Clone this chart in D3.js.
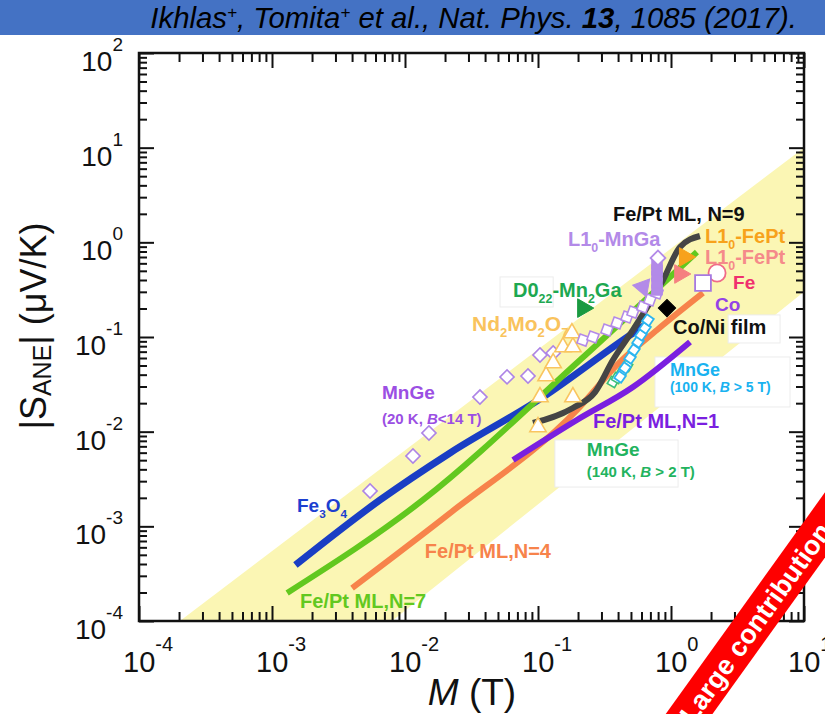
<!DOCTYPE html>
<html>
<head>
<meta charset="utf-8">
<script src="https://cdn.jsdelivr.net/npm/d3@7"></script>
<style>
  body { margin: 0; background: #fff; }
  svg { display: block; font-family: "Liberation Sans", Arial, sans-serif; }
</style>
</head>
<body>
<div id="chart"></div>
<script>
// --- data (M in T, |S_ANE| in uV/K) ---
const xExp = [-4, -3, -2, -1, 0, 1];
const yExp = [-4, -3, -2, -1, 0, 1, 2];

// yellow guide band (corners)
const bandM = [2.03e-4, 10, 10, 0.00798];
const bandS = [1e-4, 10, 0.30, 1e-4];

const fe3o4M = [0.0015, 0.0065, 0.0218, 0.109, 0.518, 0.64];
const fe3o4S = [3.9e-4, 1.9e-3, 5.96e-3, 0.0232, 0.110, 0.134];

const n7M = [0.0013, 0.01365, 0.207, 1.567];
const n7S = [1.98e-4, 1.9e-3, 0.0571, 0.791];

const n4M = [0.0040, 0.0218, 0.196, 0.414, 0.785, 1.74];
const n4S = [2.23e-4, 1.38e-3, 0.0169, 0.0545, 0.1186, 0.292];

const n1M = [0.0649, 0.196, 0.518, 1.39];
const n1S = [5.02e-3, 0.01327, 0.0296, 0.0885];

const n9M = [0.0916, 0.183, 0.2685, 0.366, 0.518, 0.871, 1.17, 1.65];
const n9S = [0.01236, 0.0178, 0.0262, 0.0571, 0.1186, 0.40, 0.893, 1.167];

const mnge20M = [0.00546, 0.01148, 0.01514, 0.0366, 0.0585, 0.0841, 0.1035, 0.130];
const mnge20S = [0.00236, 0.00553, 0.00968, 0.0232, 0.0379, 0.0387, 0.0646, 0.0678];

const mngaChainM = [0.218, 0.259, 0.330, 0.393, 0.467, 0.518, 0.615, 0.695, 0.785];
const mngaChainS = [0.0929, 0.100, 0.1186, 0.1406, 0.1626, 0.1836, 0.2075, 0.246, 0.292];
const mngaColM = [0.785, 0.785, 0.785, 0.785, 0.785];
const mngaColS = [0.314, 0.372, 0.441, 0.510, 0.590];
const mngaTopM = [0.798], mngaTopS = [0.684];
const mngaTriM = [0.615], mngaTriS = [0.337];

const ndM = [0.1, 0.1035, 0.183, 0.115, 0.130, 0.154, 0.183, 0.180];
const ndS = [0.0112, 0.0232, 0.0232, 0.0387, 0.0531, 0.0783, 0.0783, 0.110];

const mnge100M = [0.414, 0.451, 0.492, 0.527, 0.565, 0.595, 0.638, 0.671];
const mnge100S = [0.0379, 0.0471, 0.060, 0.0729, 0.0885, 0.105, 0.1245, 0.151];

const mnge140M = [0.366, 0.393, 0.428, 0.467];
const mnge140S = [0.0335, 0.0369, 0.0427, 0.0494];

const d022M = [0.218], d022S = [0.202];
const fept1M = [1.27], fept1S = [0.70];
const fept2M = [1.17], fept2S = [0.463];
const feM = [2.22], feS = [0.474];
const coM = [1.74], coS = [0.372];
const coniM = [0.933], coniS = [0.202];

// annotation texts and their anchors (left end, baseline) in data units
const labelText = ["Fe/Pt ML, N=9", "L1_{0}-FePt", "L1_{0}-FePt", "L1_{0}-MnGa", "Fe", "Co",
  "D0_{22}-Mn_{2}Ga", "Nd_{2}Mo_{2}O_{7}", "Co/Ni film", "MnGe", "(20 K, *{B}<14 T)",
  "Fe_{3}O_{4}", "Fe/Pt ML,N=1", "MnGe", "(140 K, *{B} > 2 T)", "MnGe", "(100 K, *{B} > 5 T)",
  "Fe/Pt ML,N=4", "Fe/Pt ML,N=7"];
const labelM = [0.366, 1.80, 1.80, 0.168, 2.93, 2.14, 0.0649, 0.0319, 1.035, 0.00671, 0.00671,
  0.00154, 0.259, 0.233, 0.233, 0.981, 0.981, 0.0141, 0.001626];
const labelS = [1.68, 0.984, 0.590, 0.914, 0.321, 0.188, 0.265, 0.1156, 0.1076, 0.0221, 0.01205,
  0.00142, 0.01094, 0.00553, 0.00332, 0.0387, 0.0262, 4.63e-4, 1.37e-4];
const labelColor = ["#111", "#f7a21b", "#f58a8a", "#b38ae8", "#f0306e", "#9442e6", "#1da851",
  "#f9c35c", "#111", "#9b4fe3", "#9b4fe3", "#1c3fd0", "#7a1fe0", "#22b35e", "#22b35e",
  "#19b2f0", "#19b2f0", "#f7834b", "#62c81f"];
const labelSize = [20, 20, 20, 20, 19, 19, 20, 21, 20, 19, 15, 19, 20, 19, 15, 18, 14, 20, 20];

// white boxes behind some annotations [M0, M1, S0, S1]
const boxM0 = [0.134, 0.758, 2.69, 0.0518];
const boxM1 = [1.13, 7.85, 6.61, 0.130];
const boxS0 = [0.0026, 0.01824, 0.0865, 0.2075];
const boxS1 = [0.00817, 0.0615, 0.171, 0.431];

// --- chart ---
const W = 825, H = 714;
const m = { left: 139, right: 804, top: 53, bottom: 621 };
const svg = d3.select("#chart").append("svg").attr("width", W).attr("height", H);

const x = d3.scaleLog().domain([1e-4, 10]).range([m.left, m.right]);
const y = d3.scaleLog().domain([1e-4, 100]).range([m.bottom, m.top]);

svg.append("defs").append("clipPath").attr("id", "plot")
  .append("rect").attr("x", m.left).attr("y", m.top)
  .attr("width", m.right - m.left).attr("height", m.bottom - m.top);

// header bar
svg.append("rect").attr("width", W).attr("height", 35).attr("fill", "#4472c4");
const citeG = svg.append("g").attr("transform", "translate(797,28)");
const cite = citeG.append("text").attr("text-anchor", "end").attr("font-style", "italic")
  .attr("font-size", 29).attr("fill", "#000");
cite.append("tspan").text("Ikhlas");
cite.append("tspan").attr("font-size", 17).attr("dy", -10).text("+");
cite.append("tspan").attr("dy", 10).text(", Tomita");
cite.append("tspan").attr("font-size", 17).attr("dy", -10).text("+");
cite.append("tspan").attr("dy", 10).text(" et al., Nat. Phys. ");
cite.append("tspan").attr("font-weight", "bold").text("13");
cite.append("tspan").text(", 1085 (2017).");
const citeW = cite.node().getComputedTextLength();
cite.attr("transform", `scale(${647 / citeW},1)`);

const plot = svg.append("g").attr("clip-path", "url(#plot)");

// band
const pt = (M, S) => M.map((d, i) => [x(d), y(S[i])]);
plot.append("path")
  .attr("d", d3.line()(pt(bandM, bandS)) + "Z")
  .attr("fill", "#fbf6b4");

// boxes
boxM0.forEach((d, i) => {
  plot.append("rect")
    .attr("x", x(d)).attr("y", y(boxS1[i]))
    .attr("width", x(boxM1[i]) - x(d)).attr("height", y(boxS0[i]) - y(boxS1[i]))
    .attr("fill", "#fff").attr("stroke", "#ececec").attr("stroke-width", 1);
});

// lines
const lines = [
  { M: fe3o4M, S: fe3o4S, color: "#1a3ec4", w: 7 },
  { M: n7M, S: n7S, color: "#62c81f", w: 6 },
  { M: n4M, S: n4S, color: "#f7834b", w: 6 },
  { M: n9M, S: n9S, color: "#454545", w: 6 },
  { M: n1M, S: n1S, color: "#7a1fe0", w: 6 }
];
const lineGen = d3.line().curve(d3.curveMonotoneX);
lines.forEach(l => {
  plot.append("path")
    .attr("d", lineGen(pt(l.M, l.S)))
    .attr("fill", "none").attr("stroke", l.color).attr("stroke-width", l.w)
    .attr("stroke-linecap", "butt").attr("stroke-linejoin", "round");
});

// markers
function markers(M, S, type, size, rot, fill, stroke, sw) {
  plot.append("g").selectAll("path")
    .data(M.map((d, i) => [d, S[i]]))
    .join("path")
    .attr("d", d3.symbol().type(type).size(size))
    .attr("transform", d => `translate(${x(d[0])},${y(d[1])}) rotate(${rot})`)
    .attr("fill", fill).attr("stroke", stroke).attr("stroke-width", sw);
}
markers(mnge20M, mnge20S, d3.symbolSquare, 100, 45, "#fff", "#ad84e6", 1.6);
markers(ndM, ndS, d3.symbolTriangle, 115, 0, "#fff", "#f9c560", 1.6);
markers(mnge140M, mnge140S, d3.symbolSquare, 70, 30, "#fff", "#3cbf7a", 1.6);
markers(mnge100M, mnge100S, d3.symbolSquare, 70, 35, "#fff", "#2bb5f0", 1.8);
markers(mngaChainM, mngaChainS, d3.symbolSquare, 90, 20, "#fff", "#b38ae8", 1.6);
markers(mngaColM, mngaColS, d3.symbolSquare, 110, 0, "#b38ae8", "#b38ae8", 1);
markers(mngaTopM, mngaTopS, d3.symbolSquare, 110, 45, "#fff", "#b38ae8", 1.8);
markers(mngaTriM, mngaTriS, d3.symbolTriangle, 140, 160, "#b38ae8", "#b38ae8", 1);
markers(d022M, d022S, d3.symbolTriangle, 150, 90, "#1a9a40", "#1a9a40", 1);
markers(fept1M, fept1S, d3.symbolTriangle, 150, 90, "#f7a21b", "#f7a21b", 1);
markers(fept2M, fept2S, d3.symbolTriangle, 150, 90, "#f58080", "#f58080", 1);
markers(feM, feS, d3.symbolCircle, 230, 0, "#fff", "#f06a88", 1.8);
markers(coM, coS, d3.symbolSquare, 250, 0, "#fff", "#a679e0", 1.8);
markers(coniM, coniS, d3.symbolSquare, 150, 45, "#000", "#000", 1);

// annotation labels with sub/superscripts
function rich(sel, str, base) {
  const parts = str.split(/(_\{[^}]*\}|\^\{[^}]*\}|\*\{[^}]*\})/).filter(s => s.length);
  let off = 0;
  parts.forEach(p => {
    let target = 0, txt = p, small = false, ital = false;
    if (p.startsWith("_{")) { target = 0.3 * base; txt = p.slice(2, -1); small = true; }
    else if (p.startsWith("^{")) { target = -0.5 * base; txt = p.slice(2, -1); small = true; }
    else if (p.startsWith("*{")) { txt = p.slice(2, -1); ital = true; }
    const t = sel.append("tspan").text(txt);
    if (target !== off) t.attr("dy", target - off);
    if (small) t.attr("font-size", base * 0.62);
    if (ital) t.attr("font-style", "italic");
    off = target;
  });
}
const labG = svg.append("g").attr("font-weight", "bold");
labelText.forEach((s, i) => {
  const t = labG.append("text")
    .attr("x", x(labelM[i])).attr("y", y(labelS[i]))
    .attr("font-size", labelSize[i]).attr("fill", labelColor[i]);
  rich(t, s, labelSize[i]);
});

// axes: frame and inward ticks on all sides
const xMajor = xExp.map(e => 10 ** e);
const yMajor = yExp.map(e => 10 ** e);
const minors = ex => ex.slice(0, -1).flatMap(e => d3.range(2, 10).map(k => k * 10 ** e));
const xMinor = minors(xExp), yMinor = minors(yExp);

function axisPair(axisFn, scale, vals, len, tr) {
  const g = svg.append("g").attr("transform", tr)
    .call(axisFn(scale).tickValues(vals).tickSize(len).tickFormat(""));
  g.select(".domain").remove();
  g.selectAll(".tick line").attr("stroke", "#111").attr("stroke-width", 2);
}
[[xMajor, 15], [xMinor, 9]].forEach(([v, l]) => {
  axisPair(d3.axisBottom, x, v, -l, `translate(0,${m.bottom})`);
  axisPair(d3.axisTop, x, v, -l, `translate(0,${m.top})`);
});
[[yMajor, 15], [yMinor, 8]].forEach(([v, l]) => {
  axisPair(d3.axisLeft, y, v, -l, `translate(${m.left},0)`);
  axisPair(d3.axisRight, y, v, -l, `translate(${m.right},0)`);
});
svg.append("rect").attr("x", m.left).attr("y", m.top)
  .attr("width", m.right - m.left).attr("height", m.bottom - m.top)
  .attr("fill", "none").attr("stroke", "#111").attr("stroke-width", 2.5);

// tick labels
const tickG = svg.append("g").attr("font-size", 28).attr("fill", "#111");
yExp.forEach(e => {
  const t = tickG.append("text").attr("x", 123).attr("y", y(10 ** e) + 18).attr("text-anchor", "end");
  t.append("tspan").text("10");
  t.append("tspan").attr("font-size", 19).attr("dy", -20).text(e);
});
xExp.forEach(e => {
  const t = tickG.append("text").attr("x", x(10 ** e) - 16).attr("y", 672).attr("font-size", 29);
  t.append("tspan").text("10");
  t.append("tspan").attr("font-size", 20).attr("dy", -21).text(e);
});

// axis titles
const yt = svg.append("text").attr("transform", "translate(46,326) rotate(-90)")
  .attr("text-anchor", "middle").attr("font-size", 36).attr("fill", "#111");
yt.append("tspan").text("|S");
yt.append("tspan").attr("font-size", 25).attr("dy", 5).text("ANE");
yt.append("tspan").attr("dy", -5).text("| (μV/K)");

const xt = svg.append("text").attr("x", 472).attr("y", 705)
  .attr("text-anchor", "middle").attr("font-size", 37).attr("fill", "#111");
xt.append("tspan").attr("font-style", "italic").text("M");
xt.append("tspan").text(" (T)");

// red banner in the corner
const ban = svg.append("g").attr("transform", "translate(697,703) rotate(-54.3)");
ban.append("rect").attr("x", -60).attr("y", -19).attr("width", 420).attr("height", 38).attr("fill", "#fe0000");
ban.append("text").attr("x", -20).attr("y", 1).attr("dominant-baseline", "central")
  .attr("font-size", 27).attr("font-weight", "bold").attr("fill", "#fff").text("Large contribution");
</script>
</body>
</html>
